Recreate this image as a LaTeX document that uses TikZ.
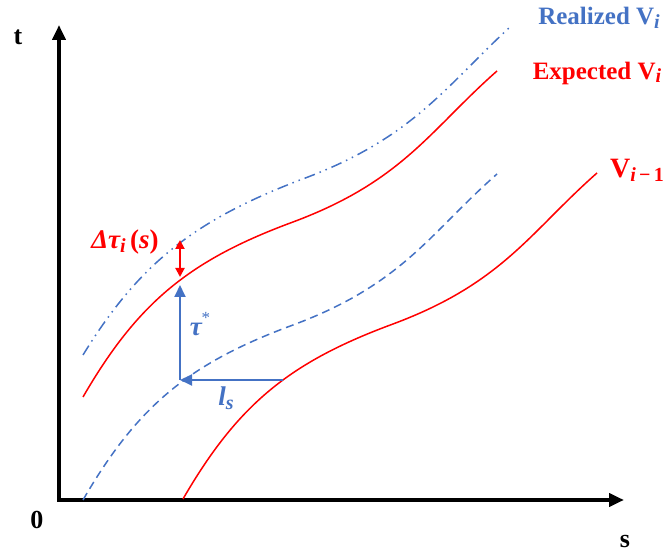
\RequirePackage{fix-cm}
\documentclass[tikz,border=0pt]{standalone}
\usepackage{fontspec}
\setmainfont{Liberation Serif}
\usetikzlibrary{arrows.meta}

\definecolor{realblue}{RGB}{68,114,196}
\definecolor{planred}{RGB}{255,0,0}

\tikzset{
    axis/.style={line width=4pt, line join=miter, {Triangle[length=15pt,width=13pt]}-{Triangle[length=15pt,width=13pt]}},
    axislabel/.style={font=\fontsize{26}{30}\selectfont\bfseries},
    curvelabel/.style={font=\fontsize{25}{28}\selectfont\bfseries},
    mathlabel/.style={font=\fontsize{27}{30}\selectfont\bfseries\itshape},
    expected/.style={planred, line width=1.5pt},
    realized/.style={realblue, line width=1.5pt, dash pattern=on 11pt off 5pt on 1.5pt off 5pt on 1.5pt off 5pt},
    shifted/.style={realblue, line width=1.5pt, dash pattern=on 8pt off 5pt},
    headway/.style={realblue, line width=1.8pt, -{Triangle[length=12pt,width=11pt]}},
    gap/.style={planred, line width=2pt, {Triangle[length=9pt,width=9pt]}-{Triangle[length=9pt,width=9pt]}}
}

% one trajectory, drawn again with a shift
\def\trajectory{(83,163) .. controls (138,258) and (190,300) .. (293,338)
    .. controls (403,379) and (430,430) .. (497,489)}
\newcommand{\lowsub}[1]{\raisebox{-0.3ex}{\fontsize{20}{22}\selectfont #1}}

\begin{document}
\begin{tikzpicture}[x=1pt, y=1pt]
    \useasboundingbox (0,0) rectangle (665,560);

    % ===== Axes =====
    \coordinate (origin) at (59,60);
    \coordinate (ttip) at (59,535);
    \coordinate (stip) at (624,60);
    \draw[axis] (ttip) -- (origin) -- (stip);
    \node[axislabel] (tlabel) at (18,523) {t};
    \node[axislabel] (zero) at (37,40) {0};
    \node[axislabel] (slabel) at (625,18) {s};

    % ===== Trajectories =====
    % realized V_i
    \draw[realized] (83,205) .. controls (140,298) and (196,340) .. (300,380)
        .. controls (412,421) and (444,472) .. (510,533);
    % expected V_i
    \draw[expected] \trajectory;
    % V_{i-1} shifted by the headway
    \draw[shifted, shift={(0,-103)}] \trajectory;
    % V_{i-1}
    \draw[expected, shift={(100,-102)}] \trajectory;

    % ===== Curve labels =====
    \node[curvelabel, text=realblue] (reallabel) at (599,542) {Realized V\lowsub{\itshape i}};
    \node[curvelabel, text=planred] (explabel) at (597,487) {Expected V\lowsub{\itshape i}};
    \node[curvelabel, text=planred, font=\fontsize{28}{30}\selectfont\bfseries] (prevlabel) at (637,390)
        {V\lowsub{\itshape i\upshape\,−\,1}};

    % ===== Headway construction =====
    \coordinate (lsstart) at (283,180);
    \coordinate (lsend) at (180,180);
    \coordinate (tautop) at (180,275);
    \coordinate (gapbot) at (180,283);
    \coordinate (gaptop) at (180,320);
    \draw[headway] (lsstart) -- (lsend);
    \draw[headway] (lsend) -- (tautop);
    \draw[gap] (gapbot) -- (gaptop);

    \node[mathlabel, text=realblue] (taulabel) at (200,236)
        {τ\raisebox{0.9ex}{\fontsize{17}{18}\selectfont\mdseries\upshape *}};
    \node[mathlabel, text=realblue] (lslabel) at (226,162) {l\lowsub{s}};
    \node[mathlabel, text=planred] (gaplabel) at (125,318)
        {Δτ\lowsub{i}\,\upshape(\itshape s\upshape)};

\end{tikzpicture}
\end{document}
